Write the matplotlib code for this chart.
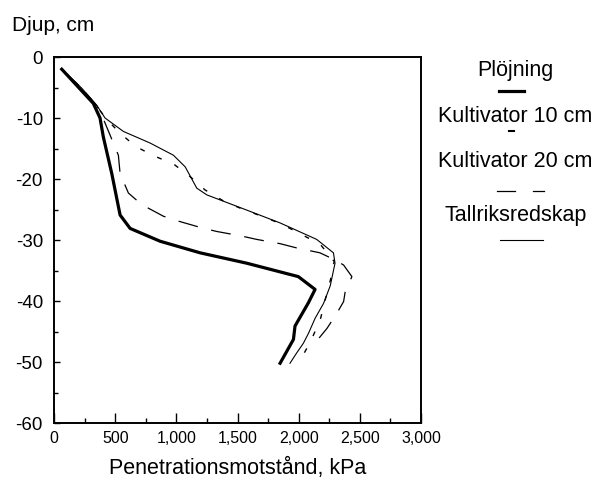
import matplotlib
matplotlib.use('Agg')
import matplotlib.pyplot as plt
from matplotlib.lines import Line2D
from matplotlib.ticker import MultipleLocator, FuncFormatter

plt.rcParams['font.family'] = ['Liberation Sans', 'DejaVu Sans']
plt.rcParams['axes.unicode_minus'] = False

# penetrationsmotstånd (kPa) mot djup (cm)
plojning_x = [63, 321, 376, 403, 472, 540, 622, 867, 1194, 1575, 1997, 2134, 2079, 1970, 1957, 1848]
plojning_y = [-2, -7.6, -10.0, -13.1, -19.1, -25.9, -28.1, -30.2, -32.1, -33.8, -36.0, -38.1, -40.3, -44.1, -46.3, -50.2]

kult10_x = [63, 226, 330, 430, 540, 670, 817, 981, 1112, 1235, 1385, 1548, 1712, 1862, 2176, 2290, 2260, 2217, 2176, 2100, 2011]
kult10_y = [-2, -5.1, -7.6, -10.2, -12.5, -14.7, -16.2, -17.6, -19.6, -21.8, -23.6, -25.0, -26.2, -27.4, -30.7, -33.5, -36.5, -39.8, -43.1, -46.5, -49.8]

kult20_x = [63, 226, 350, 400, 452, 526, 540, 608, 717, 894, 1016, 1207, 1330, 1521, 1657, 1848, 1984, 2174, 2300, 2367, 2435, 2380, 2367, 2312, 2231, 2108]
kult20_y = [-2, -5.1, -8.0, -10.0, -12.5, -16.1, -19.1, -22.3, -24.2, -26.1, -26.9, -28.0, -28.6, -29.3, -29.9, -30.6, -31.3, -32.1, -33.3, -34.1, -36.0, -38.5, -40.1, -42.0, -44.5, -47.5]

tallrik_x = [63, 226, 349, 417, 567, 785, 976, 1072, 1167, 1249, 1576, 1848, 2147, 2284, 2297, 2258, 2203, 2135, 2080, 2039, 1984, 1929]
tallrik_y = [-2, -5.1, -7.9, -10.0, -12.2, -14.1, -16.1, -18.0, -21.5, -22.6, -25.1, -27.2, -29.9, -32.1, -33.8, -37.5, -40.4, -42.8, -45.3, -46.9, -48.5, -50.2]

labels = ['Plöjning', 'Kultivator 10 cm', 'Kultivator 20 cm', 'Tallriksredskap']

fig = plt.figure(figsize=(5.95, 4.86), dpi=100)
ax = fig.add_axes([0.0908, 0.1296, 0.6168, 0.7531])

ax.plot(plojning_x, plojning_y, color='black', lw=2.3, solid_joinstyle='round')
l10, = ax.plot(kult10_x, kult10_y, color='black', lw=1.0)
l10.set_dashes((3.5, 10))
l20, = ax.plot(kult20_x, kult20_y, color='black', lw=0.9)
l20.set_dashes((16, 11))
ax.plot(tallrik_x, tallrik_y, color='black', lw=0.8)

ax.set_xlim(0, 3000)
ax.set_ylim(-60, 0)
ax.xaxis.set_major_locator(MultipleLocator(500))
ax.xaxis.set_minor_locator(MultipleLocator(250))
ax.yaxis.set_major_locator(MultipleLocator(10))
ax.yaxis.set_minor_locator(MultipleLocator(5))
ax.xaxis.set_major_formatter(FuncFormatter(lambda v, p: f'{int(v):,}'))
ax.tick_params(axis='x', which='major', direction='in', length=7, width=1, labelsize=11.5, pad=6)
ax.tick_params(axis='x', which='minor', direction='in', length=3.5, width=1)
ax.tick_params(axis='y', which='major', direction='in', length=4.5, width=1, labelsize=13.5, pad=8)
ax.tick_params(axis='y', which='minor', direction='in', length=3, width=1)
for s in ax.spines.values():
    s.set_linewidth(1.4)

ax.set_xlabel('Penetrationsmotstånd, kPa', fontsize=15.5, labelpad=8)
fig.text(0.020, 0.948, 'Djup, cm', fontsize=15, ha='left', va='center')

# teckenförklaring till höger om diagrammet
text_y = [0.855, 0.760, 0.668, 0.556]
line_y = [0.813, 0.730, 0.607, 0.506]
cx = 0.866
for t, ty in zip(labels, text_y):
    fig.text(cx, ty, t, fontsize=15.5, ha='center', va='center')
fig.add_artist(Line2D([0.838, 0.880], [line_y[0]] * 2, color='black', lw=2.3))
fig.add_artist(Line2D([0.856, 0.864], [line_y[1]] * 2, color='black', lw=1.5))
fig.add_artist(Line2D([0.835, 0.866], [line_y[2]] * 2, color='black', lw=0.9))
fig.add_artist(Line2D([0.896, 0.914], [line_y[2]] * 2, color='black', lw=0.9))
fig.add_artist(Line2D([0.840, 0.913], [line_y[3]] * 2, color='black', lw=0.8))

fig.savefig('out.png', dpi=100)
